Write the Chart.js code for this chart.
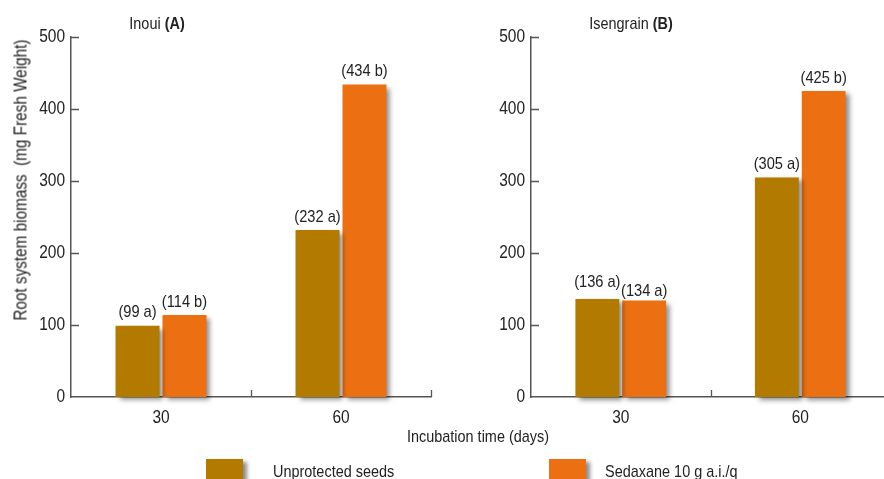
<!DOCTYPE html>
<html>
<head>
<meta charset="utf-8">
<script src="https://cdn.jsdelivr.net/npm/chart.js@4.4.1/dist/chart.umd.min.js"></script>
<style>
body{margin:0;width:884px;height:479px;overflow:hidden;background:#fff;position:relative;
  font-family:'Liberation Sans',Arial,sans-serif;color:#222}
canvas{position:absolute;top:0}
#chartA{left:0}
#chartB{left:440px}
.txt{position:absolute;white-space:nowrap;font-size:17px;transform:translate(-50%,-50%) scaleX(0.85)}
.ytitle{position:absolute;white-space:nowrap;font-size:18px;transform:translate(-50%,-50%) rotate(-90deg) scaleX(0.85)}
.box{position:absolute;top:459px;width:37px;height:24px;box-shadow:4px 3px 4px rgba(0,0,0,.45)}
.leg{position:absolute;top:472px;font-size:17px;white-space:nowrap;transform-origin:0 50%;transform:translateY(-50%) scaleX(0.85)}
</style>
</head>
<body>
<canvas id="chartA" width="440" height="440"></canvas>
<canvas id="chartB" width="450" height="440"></canvas>

<div class="txt" style="left:157px;top:24px">Inoui <b>(A)</b></div>
<div class="txt" style="left:631px;top:24px">Isengrain <b>(B)</b></div>
<div class="ytitle" style="left:21px;top:180px">Root system biomass&nbsp; (mg Fresh Weight)</div>
<div class="txt" style="left:478px;top:437px">Incubation time (days)</div>

<div class="box" style="left:206px;background:#B27B00"></div>
<div class="leg" style="left:273px">Unprotected seeds</div>
<div class="box" style="left:549px;background:#EC7011"></div>
<div class="leg" style="left:605px">Sedaxane 10 g a.i./q</div>

<script>
var FONT = "'Liberation Sans',Arial,sans-serif";
var SX = 0.86; // la police d'origine est une helvetica condensed

// les donnees
var days = ['30', '60'];
var yTicks = [0, 100, 200, 300, 400, 500];

var inouiUnprotected = [99, 232];
var inouiSedaxane = [114, 434];
var inouiUnprotectedSig = ['a', 'a'];
var inouiSedaxaneSig = ['b', 'b'];

var isengrainUnprotected = [136, 305];
var isengrainSedaxane = [134, 425];
var isengrainUnprotectedSig = ['a', 'a'];
var isengrainSedaxaneSig = ['a', 'b'];

var brown = '#B27B00';
var orange = '#EC7011';
var axisColor = '#555';

function narrowText(ctx, str, x, y, align) {
  ctx.save();
  ctx.translate(x, y);
  ctx.scale(SX, 1);
  ctx.textAlign = align;
  ctx.fillText(str, 0, 0);
  ctx.restore();
}

// ombre portee sous les barres
var barShadow = {
  id: 'barShadow',
  beforeDatasetsDraw: function (chart) {
    var c = chart.ctx;
    c.save();
    c.shadowColor = 'rgba(0,0,0,0.45)';
    c.shadowBlur = 5;
    c.shadowOffsetX = 4;
    c.shadowOffsetY = 3;
  },
  afterDatasetsDraw: function (chart) {
    chart.ctx.restore();
  }
};

// etiquettes "(99 a)" au dessus des barres
var barLabels = {
  id: 'barLabels',
  afterDatasetsDraw: function (chart) {
    var ctx = chart.ctx;
    var m0 = chart.getDatasetMeta(0).data, m1 = chart.getDatasetMeta(1).data;
    ctx.save();
    ctx.font = '17px ' + FONT;
    ctx.fillStyle = '#222';
    ctx.textBaseline = 'middle';
    chart.data.datasets.forEach(function (ds, i) {
      chart.getDatasetMeta(i).data.forEach(function (bar, j) {
        var dy = 13;
        // deux barres presque egales : les etiquettes se touchent, on les decale
        if (Math.abs(m0[j].y - m1[j].y) < 8) dy = (i === 0) ? 17 : 9;
        narrowText(ctx, '(' + ds.data[j] + ' ' + ds.sig[j] + ')', bar.x, bar.y - dy, 'center');
      });
    });
    ctx.restore();
  }
};

// traits vers l'interieur + libelles des graduations
var axisMarks = {
  id: 'axisMarks',
  afterDraw: function (chart) {
    var ctx = chart.ctx, a = chart.chartArea, x = chart.scales.x, y = chart.scales.y;
    ctx.save();
    ctx.strokeStyle = axisColor;
    ctx.lineWidth = 1.3;
    ctx.beginPath();
    y.ticks.forEach(function (t) {
      if (t.value === 0) return;
      var py = Math.round(y.getPixelForValue(t.value)) + 0.5;
      ctx.moveTo(a.left, py);
      ctx.lineTo(a.left + 8, py);
    });
    var n = x.ticks.length, w = (a.right - a.left) / n;
    for (var i = 1; i <= n; i++) {
      var px = Math.round(a.left + i * w) + 0.5;
      ctx.moveTo(px, a.bottom);
      ctx.lineTo(px, a.bottom - 7);
    }
    ctx.stroke();

    ctx.font = '18px ' + FONT;
    ctx.fillStyle = '#222';
    ctx.textBaseline = 'middle';
    y.ticks.forEach(function (t) {
      narrowText(ctx, String(t.value), a.left - 6, y.getPixelForValue(t.value), 'right');
    });
    x.ticks.forEach(function (t, k) {
      narrowText(ctx, chart.data.labels[k], x.getPixelForTick(k), a.bottom + 21, 'center');
    });
    ctx.restore();
  }
};

function makeChart(id, unprot, sed, unprotSig, sedSig, yWidth, padRight) {
  return new Chart(document.getElementById(id), {
    type: 'bar',
    data: {
      labels: days,
      datasets: [
        { label: 'Unprotected seeds', data: unprot, sig: unprotSig, backgroundColor: brown, clip: false },
        { label: 'Sedaxane 10 g a.i./q', data: sed, sig: sedSig, backgroundColor: orange, clip: false }
      ]
    },
    options: {
      responsive: false,
      animation: false,
      categoryPercentage: 0.522,
      barPercentage: 0.936,
      layout: { padding: { top: 37, right: padRight, left: 0, bottom: 0 } },
      plugins: { legend: { display: false }, tooltip: { enabled: false } },
      scales: {
        x: {
          z: 1,
          grid: { display: false },
          border: { display: true, color: axisColor, width: 1.5 },
          ticks: { display: false },
          afterFit: function (s) { s.height = 43; }
        },
        y: {
          min: 0, max: 500,
          afterBuildTicks: function (s) { s.ticks = yTicks.map(function (v) { return { value: v }; }); },
          grid: { display: false },
          border: { display: true, color: axisColor, width: 1.5 },
          ticks: { display: false },
          afterFit: function (s) { s.width = yWidth; }
        }
      }
    },
    plugins: [barShadow, barLabels, axisMarks]
  });
}

makeChart('chartA', inouiUnprotected, inouiSedaxane, inouiUnprotectedSig, inouiSedaxaneSig, 71, 9);
makeChart('chartB', isengrainUnprotected, isengrainSedaxane, isengrainUnprotectedSig, isengrainSedaxaneSig, 91, 0);
</script>
</body>
</html>
